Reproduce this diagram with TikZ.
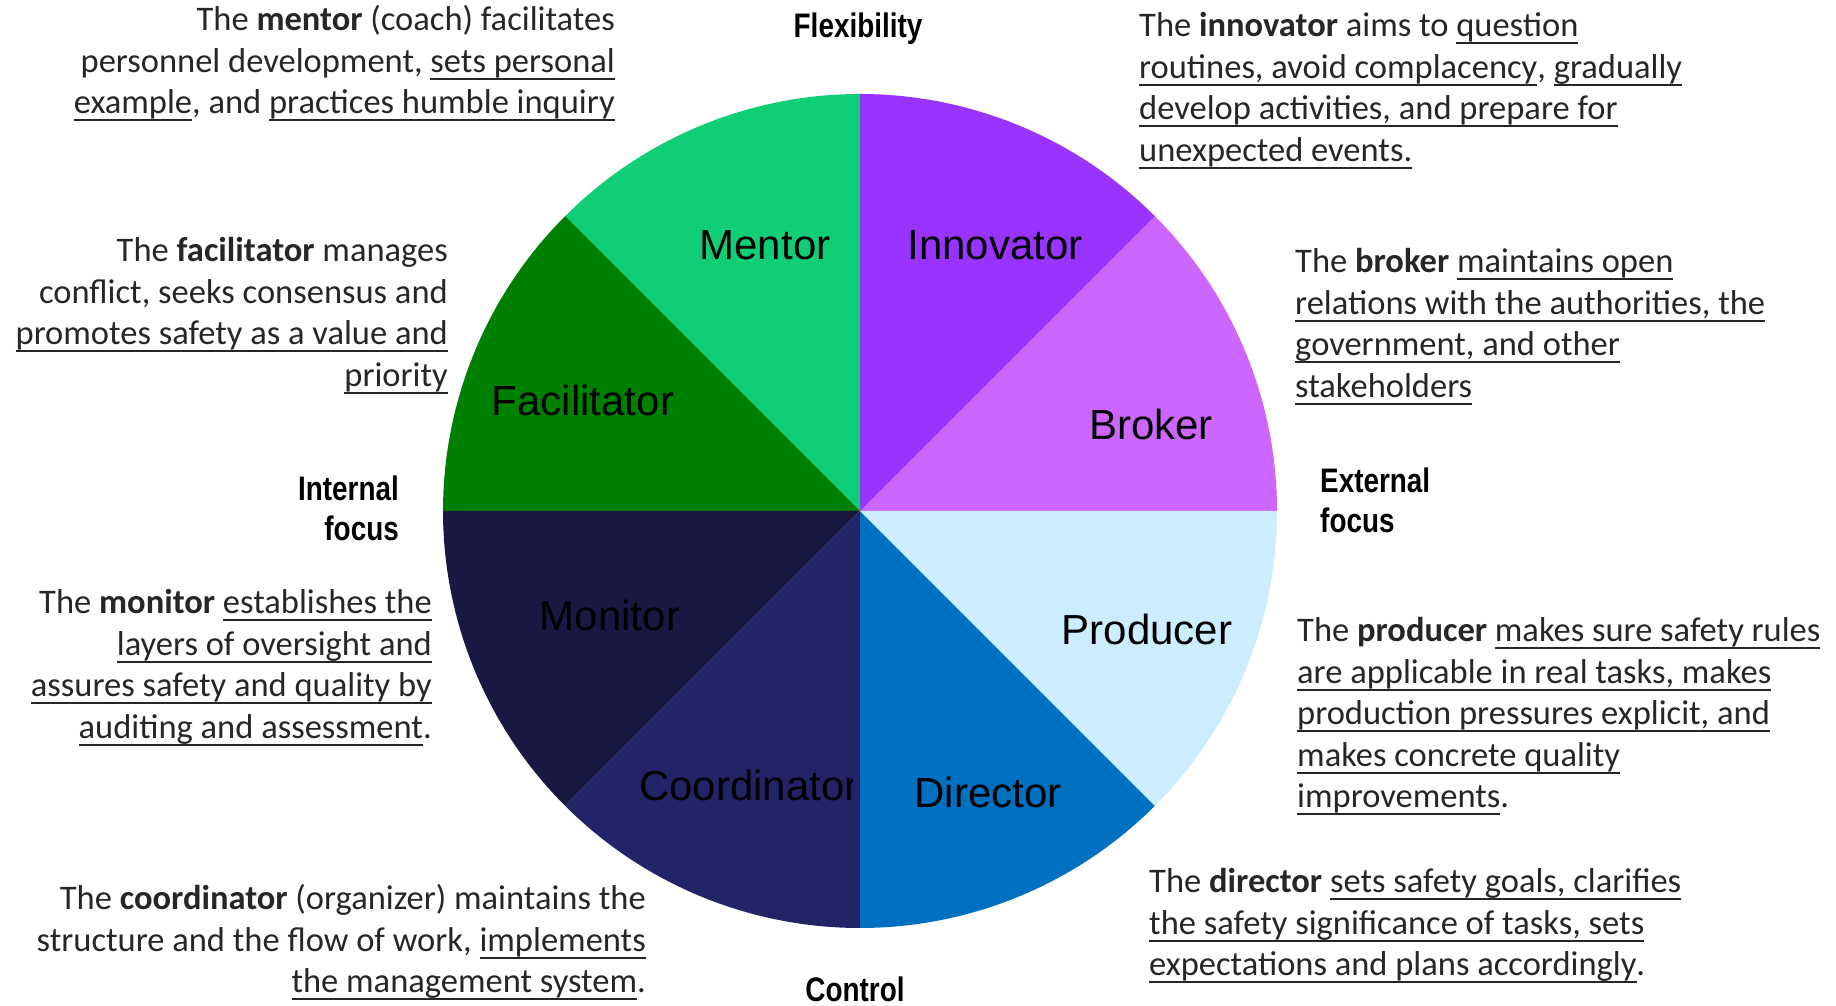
\documentclass[tikz,border=0pt]{standalone}
\usepackage{fontspec}
\setmainfont{Carlito}
\newfontfamily\wedgefont{Liberation Sans}
\newfontfamily\axisfont[FakeStretch=0.82]{Liberation Sans}

% underline with a fixed depth, also across spaces
\newcommand\ulx[1]{\leavevmode\begingroup\setbox0=\hbox{#1}\rlap{\rule[-7.5pt]{\wd0}{2.2pt}}\box0\endgroup}

\definecolor{cMentor}{RGB}{16,206,118}
\definecolor{cInnovator}{RGB}{153,51,255}
\definecolor{cBroker}{RGB}{204,102,255}
\definecolor{cProducer}{RGB}{204,236,255}
\definecolor{cDirector}{RGB}{0,112,192}
\definecolor{cCoordinator}{RGB}{35,35,104}
\definecolor{cMonitor}{RGB}{24,24,66}
\definecolor{cFacilitator}{RGB}{0,128,0}
\definecolor{descgray}{RGB}{38,38,38}

\tikzset{
  wedgelabel/.style={inner sep=0pt, font=\wedgefont\fontsize{42}{48}\selectfont, text=black},
  axislabel/.style={inner sep=0pt, font=\axisfont\bfseries\fontsize{34}{40}\selectfont, text=black},
  desc/.style={inner sep=0pt, font=\fontsize{34.5}{41.5}\selectfont, text=descgray},
  descright/.style={desc, align=right, anchor=base east},
  descleft/.style={desc, align=left, anchor=base west},
}

\begin{document}
\begin{tikzpicture}[x=1pt,y=1pt]
\useasboundingbox (0,0) rectangle (1836,1006);

\coordinate (c) at (860,495);
\def\R{417pt}

% the eight sectors of the wheel
\fill[cBroker]      (c) -- ++(0:\R)   arc[start angle=0,   end angle=45,  radius=\R] -- cycle;
\fill[cInnovator]   (c) -- ++(45:\R)  arc[start angle=45,  end angle=90,  radius=\R] -- cycle;
\fill[cMentor]      (c) -- ++(90:\R)  arc[start angle=90,  end angle=135, radius=\R] -- cycle;
\fill[cFacilitator] (c) -- ++(135:\R) arc[start angle=135, end angle=180, radius=\R] -- cycle;
\fill[cMonitor]     (c) -- ++(180:\R) arc[start angle=180, end angle=225, radius=\R] -- cycle;
\fill[cCoordinator] (c) -- ++(225:\R) arc[start angle=225, end angle=270, radius=\R] -- cycle;
\fill[cDirector]    (c) -- ++(270:\R) arc[start angle=270, end angle=315, radius=\R] -- cycle;
\fill[cProducer]    (c) -- ++(315:\R) arc[start angle=315, end angle=360, radius=\R] -- cycle;

% sector names
\node[wedgelabel] (mentor)      at (765,761)  {Mentor};
\node[wedgelabel] (innovator)   at (995,761)  {Innovator};
\node[wedgelabel] (facilitator) at (583,606)  {Facilitator};
\node[wedgelabel] (broker)      at (1151,582) {Broker};
\node[wedgelabel] (monitor)     at (610,391)  {Monitor};
\node[wedgelabel] (producer)    at (1147,377) {Producer};
\node[wedgelabel] (director)    at (988,214)  {Director};
\begin{scope}
  \clip (600,150) rectangle (852,280);
  \node[wedgelabel, anchor=base west] (coordinator) at (639,205) {Coordinator};
\end{scope}

% axis labels
\node[axislabel] (flex) at (858,977) {Flexibility};
\node[axislabel] (ctrl) at (855,17) {Control};
\node[axislabel, align=right, anchor=east] (intfocus) at (399,498) {Internal\\focus};
\node[axislabel, align=left, anchor=west] (extfocus) at (1320,506) {External\\focus};

% role descriptions (anchored at the baseline of the last line)
\node[descright] (dmentor) at (615,892) {The \textbf{mentor} (coach) facilitates\\
  personnel development, \ulx{sets personal}\\
  \ulx{example}, and \ulx{practices humble inquiry}};

\node[descleft] (dinnovator) at (1139,844.5) {The \textbf{innovator} aims to \ulx{question}\\
  \ulx{routines, avoid complacency}, \ulx{gradually}\\
  \ulx{develop activities, and prepare for}\\
  \ulx{unexpected events.}};

\node[descright] (dfacilitator) at (448,619.5) {The \textbf{facilitator} manages\\
  conflict, seeks consensus and\\
  \ulx{promotes safety as a value and}\\
  \ulx{priority}};

\node[descleft] (dbroker) at (1295,608.5) {The \textbf{broker} \ulx{maintains open}\\
  \ulx{relations with the authorities, the}\\
  \ulx{government, and other}\\
  \ulx{stakeholders}};

\node[descright] (dmonitor) at (432,267.5) {The \textbf{monitor} \ulx{establishes the}\\
  \ulx{layers of oversight and}\\
  \ulx{assures safety and quality by}\\
  \ulx{auditing and assessment}.};

\node[descleft] (dproducer) at (1297,198) {The \textbf{producer} \ulx{makes sure safety rules}\\
  \ulx{are applicable in real tasks, makes}\\
  \ulx{production pressures explicit, and}\\
  \ulx{makes concrete quality}\\
  \ulx{improvements}.};

\node[descright] (dcoordinator) at (646,13) {The \textbf{coordinator} (organizer) maintains the\\
  structure and the flow of work, \ulx{implements}\\
  \ulx{the management system}.};

\node[descleft] (ddirector) at (1149,30) {The \textbf{director} \ulx{sets safety goals, clarifies}\\
  \ulx{the safety significance of tasks, sets}\\
  \ulx{expectations and plans accordingly}.};
\end{tikzpicture}
\end{document}
